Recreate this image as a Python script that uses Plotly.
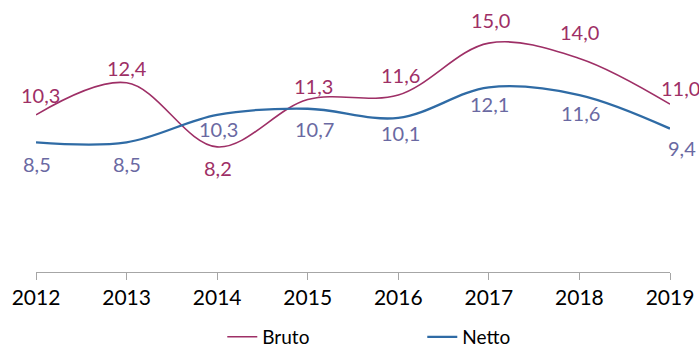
import plotly.graph_objects as go

# Years and series values (percent)
years = [2012, 2013, 2014, 2015, 2016, 2017, 2018, 2019]
bruto = [10.3, 12.4, 8.2, 11.3, 11.6, 15.0, 14.0, 11.0]
netto = [8.5, 8.5, 10.3, 10.7, 10.1, 12.1, 11.6, 9.4]

# Pixel offsets for the value labels
bruto_label_shift = [20, 15, -21, 14, 20, 23, 26, 16]
netto_label_shift = [-22, -22, -14, -20, -15, -17, -18, -19]
bruto_label_xshift = [4, 0, 1, 6, 2, 2, 0, 10]
netto_label_xshift = [1, 0, 1, 7, 2, 1, 1, 12]

BRUTO_COLOR = "#9E2F66"
NETTO_COLOR = "#2F6BA5"
NETTO_LABEL_COLOR = "#6A69A2"
FONT = "Lato"


def fmt(v):
    return f"{v:.1f}".replace(".", ",")


fig = go.Figure()
fig.add_trace(go.Scatter(
    x=years, y=bruto, name="Bruto", mode="lines",
    line=dict(color=BRUTO_COLOR, width=1.6, shape="spline", smoothing=1.0),
))
fig.add_trace(go.Scatter(
    x=years, y=netto, name="Netto", mode="lines",
    line=dict(color=NETTO_COLOR, width=2.3, shape="spline", smoothing=1.0),
))

annotations = []
for yr, v, s, xs in zip(years, bruto, bruto_label_shift, bruto_label_xshift):
    annotations.append(dict(x=yr, y=v, text=fmt(v), showarrow=False, yshift=s, xshift=xs,
                            font=dict(family=FONT, size=20, color=BRUTO_COLOR)))
for yr, v, s, xs in zip(years, netto, netto_label_shift, netto_label_xshift):
    annotations.append(dict(x=yr, y=v, text=fmt(v), showarrow=False, yshift=s, xshift=xs,
                            font=dict(family=FONT, size=20, color=NETTO_LABEL_COLOR)))

fig.update_layout(
    width=699, height=347,
    margin=dict(l=36, r=29, t=5, b=75),
    paper_bgcolor="white", plot_bgcolor="white",
    font=dict(family=FONT, color="#000000"),
    annotations=annotations,
    showlegend=True,
    legend=dict(
        orientation="h",
        xref="container", yref="container",
        x=0.318, y=0.029, xanchor="left", yanchor="middle",
        entrywidth=155, entrywidthmode="pixels",
        font=dict(family=FONT, size=19, color="#000000"),
        bgcolor="rgba(0,0,0,0)",
    ),
    xaxis=dict(
        range=[2012, 2019], tickmode="array", tickvals=years,
        ticktext=[str(y) for y in years],
        showgrid=False, zeroline=False,
        showline=True, linecolor="#A6A6A6", linewidth=1,
        ticks="outside", ticklen=7, tickcolor="#A6A6A6", tickwidth=1,
        tickfont=dict(family=FONT, size=21, color="#000000"),
        fixedrange=True,
    ),
    yaxis=dict(
        range=[0, 17.5], visible=False, showgrid=False, zeroline=False,
        fixedrange=True,
    ),
)

fig.write_html("out.html")
